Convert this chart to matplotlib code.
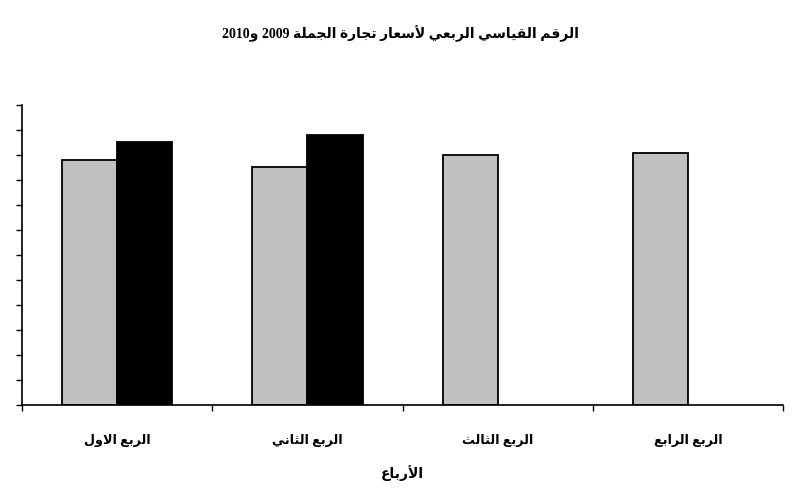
import numpy as np
import matplotlib
matplotlib.use("Agg")
import matplotlib.pyplot as plt

# ---------------- data ----------------
quarters = ["الربع الاول", "الربع الثاني", "الربع الثالث", "الربع الرابع"]
values_2009 = [98.0, 95.2, 100.0, 100.8]
values_2010 = [105.2, 108.0, np.nan, np.nan]
title_text = "الرقم القياسي الربعي لأسعار تجارة الجملة 2009 و2010"
xlabel_text = "الأرباع"
y_ticks = list(range(0, 121, 10))

# ------------- minimal Arabic shaping (matplotlib has no RTL/shaping) -------------
# letter: (isolated, final, initial, medial) ; None = does not join forward
FORMS = {
    "\u0627": (0xFE8D, 0xFE8E, None, None),
    "\u0623": (0xFE83, 0xFE84, None, None),
    "\u0628": (0xFE8F, 0xFE90, 0xFE91, 0xFE92),
    "\u0629": (0xFE93, 0xFE94, None, None),
    "\u062A": (0xFE95, 0xFE96, 0xFE97, 0xFE98),
    "\u062B": (0xFE99, 0xFE9A, 0xFE9B, 0xFE9C),
    "\u062C": (0xFE9D, 0xFE9E, 0xFE9F, 0xFEA0),
    "\u0631": (0xFEAD, 0xFEAE, None, None),
    "\u0633": (0xFEB1, 0xFEB2, 0xFEB3, 0xFEB4),
    "\u0639": (0xFEC9, 0xFECA, 0xFECB, 0xFECC),
    "\u0642": (0xFED5, 0xFED6, 0xFED7, 0xFED8),
    "\u0644": (0xFEDD, 0xFEDE, 0xFEDF, 0xFEE0),
    "\u0645": (0xFEE1, 0xFEE2, 0xFEE3, 0xFEE4),
    "\u0646": (0xFEE5, 0xFEE6, 0xFEE7, 0xFEE8),
    "\u0648": (0xFEED, 0xFEEE, None, None),
    "\u064A": (0xFEF1, 0xFEF2, 0xFEF3, 0xFEF4),
    "LA": (0xFEFB, 0xFEFC, None, None),
    "LAH": (0xFEF7, 0xFEF8, None, None),
}


def shape(text):
    toks = []
    i = 0
    while i < len(text):
        c = text[i]
        if c == "\u0644" and i + 1 < len(text) and text[i + 1] in ("\u0627", "\u0623"):
            toks.append("LA" if text[i + 1] == "\u0627" else "LAH")
            i += 2
            continue
        toks.append(c)
        i += 1
    out = []
    for k, t in enumerate(toks):
        if t not in FORMS:
            out.append(t)
            continue
        prev = toks[k - 1] if k > 0 else None
        nxt = toks[k + 1] if k + 1 < len(toks) else None
        jp = prev in FORMS and FORMS[prev][2] is not None
        jn = FORMS[t][2] is not None and nxt in FORMS
        f = FORMS[t]
        if jp and jn:
            code = f[3]
        elif jp:
            code = f[1]
        elif jn:
            code = f[2]
        else:
            code = f[0]
        out.append(chr(code))
    s = "".join(out)
    # visual order: reverse, then restore LTR digit runs
    rev = s[::-1]
    res, buf = [], []
    for ch in rev:
        if ch.isdigit():
            buf.append(ch)
        else:
            if buf:
                res.append("".join(buf[::-1]))
                buf = []
            res.append(ch)
    if buf:
        res.append("".join(buf[::-1]))
    return "".join(res)


plt.rcParams["font.family"] = ["Liberation Serif", "DejaVu Sans"]

fig = plt.figure(figsize=(8, 5), dpi=100)
ax = fig.add_axes([0.0275, 0.19, 0.9515, 0.60])

x = np.arange(len(quarters))
w = 0.29
ax.bar(x - w / 2, values_2009, width=w, color="#C0C0C0", edgecolor="black", linewidth=1.3, label="2009")
ax.bar(x + w / 2, values_2010, width=w, color="black", edgecolor="black", linewidth=1.3, label="2010")

ax.set_xlim(-0.5, len(quarters) - 0.5)
ax.set_ylim(0, 120)
ax.set_yticks(y_ticks)
ax.set_yticklabels([])
ax.set_xticks(np.arange(len(quarters) + 1) - 0.5)
ax.set_xticklabels([])
ax.set_xticks(x, minor=True)
ax.set_xticklabels([shape(q) for q in quarters], minor=True, fontsize=9.2, fontweight="bold")
ax.tick_params(axis="x", which="minor", length=0, pad=21)
ax.tick_params(axis="x", which="major", length=4, width=1, direction="out")
ax.tick_params(axis="y", length=4, width=1, direction="out")

for s in ("top", "right"):
    ax.spines[s].set_visible(False)
for s in ("left", "bottom"):
    ax.spines[s].set_linewidth(1.2)

ax.set_xlabel(shape(xlabel_text), fontsize=10, fontweight="bold", labelpad=13)
fig.text(0.5, 0.933, shape(title_text), ha="center", va="center", fontsize=10, fontweight="bold")

fig.savefig("out.png", dpi=100, facecolor="white")
